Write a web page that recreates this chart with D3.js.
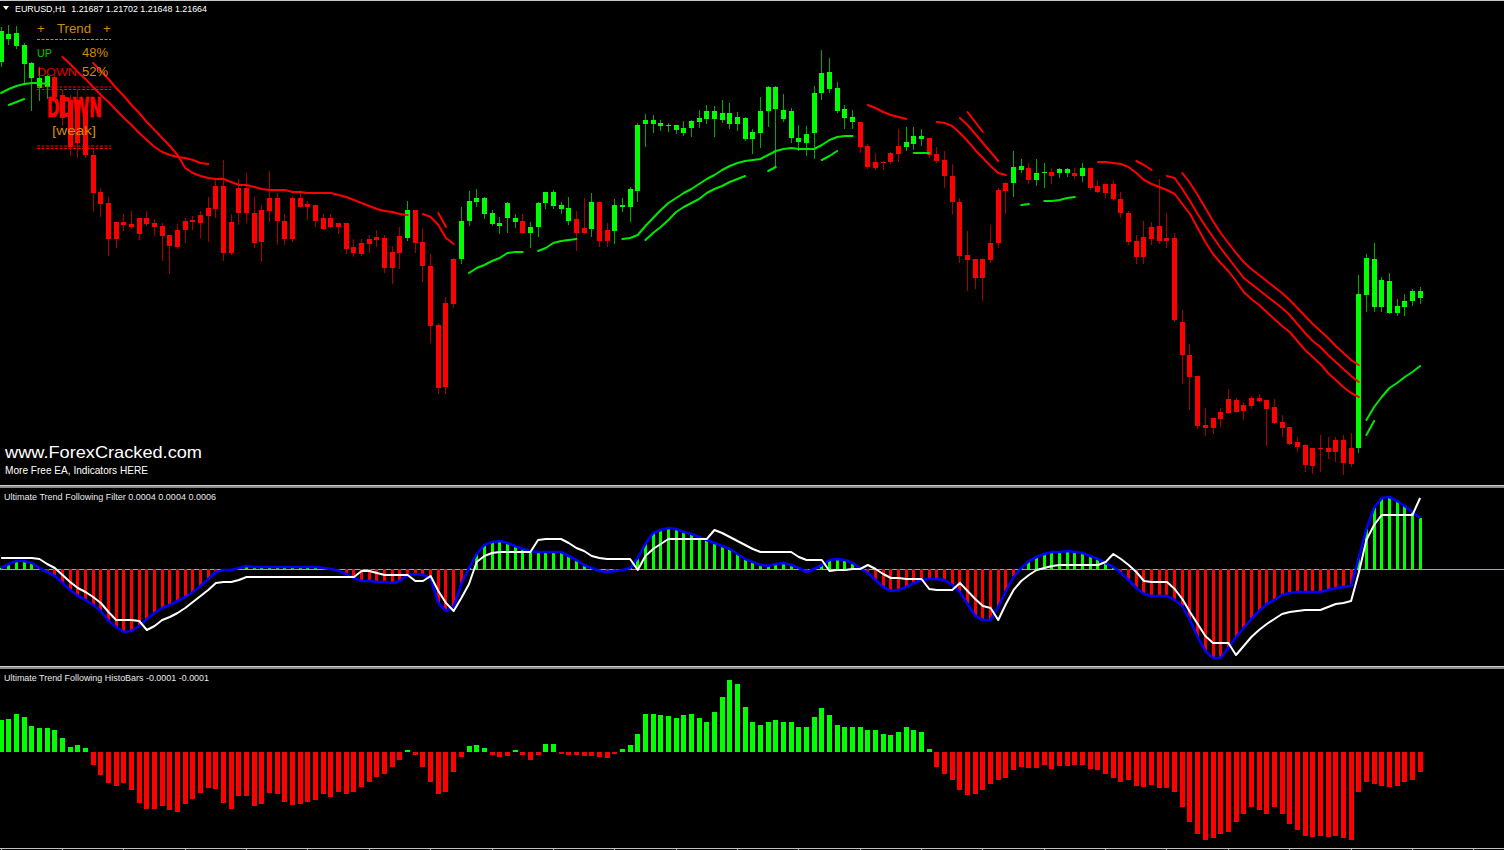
<!DOCTYPE html>
<html><head><meta charset="utf-8">
<script src="https://cdn.jsdelivr.net/npm/d3@7"></script>
<style>html,body{margin:0;padding:0;background:#000;overflow:hidden}</style>
</head><body>
<script>
// ---------------- DATA ----------------
const headerText = "EURUSD,H1  1.21687 1.21702 1.21648 1.21664";
const filterTitle = "Ultimate Trend Following Filter 0.0004 0.0004 0.0006";
const histoTitle = "Ultimate Trend Following HistoBars -0.0001 -0.0001";

const open = [
1.2438,1.2466,1.2467,1.2455,1.2437,1.2422,1.2413,1.2423,1.2405,1.2400,
1.2357,1.2390,1.2345,1.2308,1.2297,1.2261,1.2278,1.2276,1.2266,1.2282,
1.2277,1.2274,1.2265,1.2253,1.2270,1.2278,1.2277,1.2284,1.2291,1.2314,
1.2247,1.2287,1.2312,1.2287,1.2258,1.2289,1.2302,1.2279,1.2261,1.2302,
1.2293,1.2295,1.2282,1.2273,1.2277,1.2277,1.2253,1.2246,1.2256,1.2260,
1.2262,1.2232,1.2247,1.2262,1.2290,1.2258,1.2234,1.2175,1.2113,1.2196,
1.2241,1.2279,1.2298,1.2302,1.2287,1.2277,1.2282,1.2282,1.2279,1.2267,
1.2273,1.2297,1.2308,1.2295,1.2292,1.2281,1.2267,1.2271,1.2298,1.2259,
1.2269,1.2295,1.2293,1.2309,1.2376,1.2380,1.2377,1.2374,1.2375,1.2372,
1.2372,1.2378,1.2381,1.2389,1.2380,1.2387,1.2376,1.2382,1.2361,1.2367,
1.2389,1.2413,1.2390,1.2389,1.2362,1.2357,1.2367,1.2407,1.2428,1.2412,
1.2391,1.2383,1.2378,1.2354,1.2332,1.2338,1.2338,1.2346,1.2353,1.2356,
1.2364,1.2362,1.2346,1.2340,1.2324,1.2298,1.2245,1.2241,1.2222,1.2240,
1.2257,1.2309,1.2317,1.2334,1.2332,1.2320,1.2327,1.2328,1.2327,1.2331,
1.2327,1.2324,1.2332,1.2314,1.2307,1.2316,1.2301,1.2287,1.2259,1.2243,
1.2261,1.2274,1.2259,1.2262,1.2178,1.2145,1.2124,1.2075,1.2072,1.2081,
1.2087,1.2100,1.2089,1.2094,1.2102,1.2100,1.2093,1.2078,1.2073,1.2058,
1.2055,1.2034,1.2052,1.2052,1.2048,1.2060,1.2036,1.2052,1.2205,1.2241,
1.2193,1.2219,1.2187,1.2193,1.2199,1.2209];

const high = [
1.2473,1.2475,1.2474,1.2457,1.2438,1.2433,1.2425,1.2425,1.2410,1.2405,
1.2410,1.2395,1.2352,1.2312,1.2303,1.2278,1.2286,1.2289,1.2282,1.2289,
1.2281,1.2277,1.2265,1.2276,1.2282,1.2284,1.2289,1.2303,1.2320,1.2340,
1.2286,1.2321,1.2327,1.2303,1.2295,1.2329,1.2307,1.2286,1.2304,1.2310,
1.2299,1.2295,1.2286,1.2286,1.2277,1.2277,1.2261,1.2261,1.2265,1.2270,
1.2265,1.2254,1.2273,1.2299,1.2290,1.2272,1.2246,1.2177,1.2203,1.2242,
1.2293,1.2309,1.2311,1.2303,1.2290,1.2283,1.2298,1.2286,1.2286,1.2278,
1.2298,1.2308,1.2310,1.2298,1.2303,1.2289,1.2302,1.2307,1.2298,1.2277,
1.2301,1.2302,1.2313,1.2377,1.2386,1.2385,1.2380,1.2377,1.2375,1.2379,
1.2380,1.2390,1.2395,1.2394,1.2400,1.2397,1.2388,1.2383,1.2371,1.2403,
1.2414,1.2414,1.2406,1.2392,1.2375,1.2374,1.2414,1.2450,1.2442,1.2418,
1.2395,1.2390,1.2378,1.2356,1.2347,1.2339,1.2348,1.2371,1.2373,1.2373,
1.2371,1.2362,1.2353,1.2349,1.2336,1.2302,1.2269,1.2241,1.2242,1.2275,
1.2312,1.2318,1.2349,1.2341,1.2337,1.2341,1.2337,1.2332,1.2332,1.2332,
1.2332,1.2337,1.2332,1.2320,1.2317,1.2320,1.2308,1.2289,1.2265,1.2279,
1.2278,1.2321,1.2287,1.2267,1.2190,1.2156,1.2124,1.2092,1.2082,1.2092,
1.2111,1.2102,1.2098,1.2104,1.2106,1.2100,1.2101,1.2085,1.2073,1.2063,
1.2056,1.2052,1.2065,1.2063,1.2063,1.2065,1.2067,1.2225,1.2246,1.2257,
1.2223,1.2227,1.2201,1.2206,1.2211,1.2213];

const low = [
1.2434,1.2456,1.2452,1.2418,1.2390,1.2400,1.2402,1.2400,1.2375,1.2345,
1.2343,1.2343,1.2289,1.2284,1.2245,1.2253,1.2270,1.2272,1.2261,1.2275,
1.2265,1.2240,1.2227,1.2252,1.2258,1.2271,1.2263,1.2259,1.2283,1.2240,
1.2246,1.2276,1.2278,1.2253,1.2239,1.2279,1.2256,1.2256,1.2259,1.2293,
1.2281,1.2274,1.2271,1.2273,1.2267,1.2247,1.2244,1.2245,1.2248,1.2254,
1.2228,1.2217,1.2232,1.2260,1.2248,1.2219,1.2158,1.2107,1.2107,1.2193,
1.2237,1.2275,1.2294,1.2282,1.2275,1.2267,1.2268,1.2273,1.2267,1.2253,
1.2264,1.2292,1.2292,1.2287,1.2276,1.2250,1.2267,1.2264,1.2254,1.2254,
1.2257,1.2289,1.2279,1.2299,1.2354,1.2368,1.2370,1.2369,1.2367,1.2365,
1.2364,1.2373,1.2377,1.2364,1.2378,1.2372,1.2370,1.2360,1.2347,1.2353,
1.2374,1.2333,1.2379,1.2358,1.2350,1.2345,1.2342,1.2401,1.2408,1.2388,
1.2372,1.2372,1.2348,1.2332,1.2331,1.2331,1.2337,1.2339,1.2350,1.2351,
1.2355,1.2343,1.2338,1.2313,1.2287,1.2238,1.2210,1.2212,1.2200,1.2238,
1.2253,1.2287,1.2304,1.2328,1.2317,1.2315,1.2313,1.2317,1.2323,1.2324,
1.2322,1.2319,1.2311,1.2308,1.2303,1.2300,1.2283,1.2256,1.2237,1.2237,
1.2256,1.2257,1.2253,1.2179,1.2117,1.2091,1.2072,1.2065,1.2067,1.2074,
1.2087,1.2088,1.2081,1.2092,1.2099,1.2055,1.2077,1.2064,1.2056,1.2049,
1.2029,1.2027,1.2029,1.2042,1.2039,1.2026,1.2034,1.2048,1.2189,1.2189,
1.2189,1.2187,1.2185,1.2185,1.2195,1.2197];

const close = [
1.2469,1.2461,1.2454,1.2436,1.2422,1.2412,1.2424,1.2403,1.2382,1.2353,
1.2400,1.2345,1.2307,1.2296,1.2261,1.2278,1.2275,1.2273,1.2282,1.2276,
1.2273,1.2264,1.2254,1.2270,1.2279,1.2280,1.2285,1.2292,1.2314,1.2247,
1.2278,1.2312,1.2287,1.2257,1.2290,1.2302,1.2279,1.2261,1.2302,1.2293,
1.2296,1.2279,1.2271,1.2282,1.2273,1.2251,1.2247,1.2257,1.2261,1.2263,
1.2232,1.2248,1.2264,1.2290,1.2257,1.2234,1.2174,1.2112,1.2197,1.2241,
1.2279,1.2299,1.2302,1.2286,1.2276,1.2274,1.2297,1.2278,1.2267,1.2273,
1.2297,1.2308,1.2294,1.2291,1.2279,1.2267,1.2272,1.2298,1.2259,1.2270,
1.2295,1.2293,1.2311,1.2375,1.2380,1.2376,1.2374,1.2375,1.2370,1.2367,
1.2379,1.2382,1.2389,1.2381,1.2387,1.2376,1.2383,1.2361,1.2368,1.2389,
1.2413,1.2391,1.2381,1.2362,1.2358,1.2366,1.2407,1.2427,1.2411,1.2389,
1.2382,1.2378,1.2353,1.2333,1.2338,1.2337,1.2347,1.2354,1.2358,1.2364,
1.2361,1.2345,1.2339,1.2324,1.2298,1.2244,1.2240,1.2222,1.2241,1.2257,
1.2310,1.2317,1.2333,1.2330,1.2320,1.2327,1.2328,1.2324,1.2331,1.2327,
1.2324,1.2332,1.2312,1.2308,1.2316,1.2301,1.2287,1.2258,1.2243,1.2263,
1.2273,1.2259,1.2262,1.2180,1.2145,1.2123,1.2074,1.2072,1.2082,1.2088,
1.2101,1.2088,1.2095,1.2102,1.2099,1.2091,1.2077,1.2072,1.2056,1.2053,
1.2035,1.2052,1.2051,1.2048,1.2060,1.2037,1.2052,1.2206,1.2242,1.2193,
1.2220,1.2187,1.2194,1.2199,1.2209,1.2202];

// candle colouring by trend: runs of [trend, count]
const trendRuns = [["u",7],["d",46],["u",1],["d",6],["u",8],["d",1],["u",6],["d",2],["u",1],["d",2],
  ["u",32],["d",6],["u",3],["d",11],["u",2],["d",1],["u",2],["d",1],["u",2],["d",1],["u",1],["d",35],["u",9]];

// moving-average style trend lines (segments: first bar index + prices)
const redLines = [
 {from:8,  values:[1.2443,1.2436,1.2428,1.2421,1.2413,1.2405,1.2398,1.2390,1.2382,1.2375,1.2367,1.2360,1.2353,1.2348,1.2345,1.2343,1.2342,1.2340,1.2337,1.2336]},
 {from:12, values:[1.2437,1.2429,1.2421,1.2412,1.2404,1.2395,1.2387,1.2378,1.2370,1.2362,1.2354,1.2345,1.2332,1.2327,1.2324,1.2322,1.2321,1.2321,1.2318,1.2315,1.2315,1.2313,1.2311,1.2310,1.2310,1.2310,1.2308,1.2308,1.2307,1.2307,1.2307,1.2307,1.2305,1.2303,1.2300,1.2297,1.2294,1.2291,1.2289,1.2288,1.2286,1.2285]},
 {from:55, values:[1.2286,1.2283,1.2275,1.2262,1.2256]},
 {from:57, values:[1.2287,1.2273]},
 {from:113,values:[1.2395,1.2392,1.2388,1.2385,1.2383,1.2381]},
 {from:122,values:[1.2378,1.2377,1.2374,1.2367,1.2359,1.2350,1.2342,1.2334,1.2327,1.2325]},
 {from:125,values:[1.2382,1.2375,1.2366,1.2357,1.2348,1.2339]},
 {from:126,values:[1.2388,1.2378,1.2368]},
 {from:143,values:[1.2338,1.2338,1.2337,1.2336,1.2333,1.2327,1.2320,1.2316,1.2313,1.2310,1.2306,1.2296,1.2286,1.2272,1.2258,1.2246,1.2237,1.2229,1.2219,1.2208,1.2201,1.2195,1.2188,1.2181,1.2174,1.2168,1.2159,1.2150,1.2143,1.2136,1.2127,1.2120,1.2113,1.2107,1.2103]},
 {from:148,values:[1.2339,1.2335,1.2330]},
 {from:152,values:[1.2324,1.2322,1.2311,1.2299,1.2286,1.2274,1.2263,1.2252,1.2242,1.2232,1.2222,1.2216,1.2210,1.2204,1.2198,1.2192,1.2185,1.2176,1.2167,1.2159,1.2153,1.2145,1.2138,1.2131,1.2124,1.2118]},
 {from:154,values:[1.2327,1.2317,1.2305,1.2292,1.2279,1.2267,1.2257,1.2247,1.2238,1.2231,1.2225,1.2219,1.2213,1.2207,1.2200,1.2192,1.2184,1.2176,1.2169,1.2162,1.2154,1.2147,1.2140,1.2135]}
];
const greenLines = [
 {from:0,  values:[1.2407,1.2411,1.2414,1.2416,1.2417,1.2417,1.2416]},
 {from:1,  values:[1.2395,1.2398,1.2401]},
 {from:61, values:[1.2227,1.2232,1.2235,1.2239,1.2242,1.2247,1.2248,1.2248]},
 {from:70, values:[1.2249,1.2252,1.2257,1.2259,1.2260,1.2261]},
 {from:81, values:[1.2261,1.2262,1.2265,1.2274,1.2282,1.2290,1.2297,1.2302,1.2307,1.2311,1.2316,1.2321,1.2325,1.2330,1.2334,1.2337,1.2339,1.2340,1.2341,1.2345,1.2349,1.2351,1.2352,1.2351,1.2351,1.2351,1.2355,1.2360,1.2363,1.2364,1.2364]},
 {from:84, values:[1.2260,1.2267,1.2273,1.2280,1.2288,1.2293,1.2297,1.2301,1.2307,1.2311,1.2314,1.2318,1.2321,1.2324]},
 {from:100,values:[1.2329,1.2333]},
 {from:107,values:[1.2340,1.2344,1.2349]},
 {from:119,values:[1.2347,1.2347,1.2347]},
 {from:133,values:[1.2295,1.2296]},
 {from:136,values:[1.2299,1.2299,1.2300,1.2302,1.2303]},
 {from:178,values:[1.2080,1.2093,1.2103,1.2112,1.2117,1.2123,1.2128,1.2134]},
 {from:178,values:[1.2065,1.2079]}
];

// Filter panel (units: 1e-5)
const filterMain = [
1,5,8,8,6,1,-3,-7,-14,-21,
-27,-31,-36,-42,-52,-58,-63,-62,-57,-50,
-44,-39,-36,-32,-28,-23,-17,-10,-3,-1,
-1,1,3,2,2,2,2,2,2,2,
2,2,1,0,-2,-5,-9,-12,-12,-13,
-13,-14,-12,-6,-5,-6,-9,-34,-42,-38,
-15,1,15,24,27,28,26,23,20,18,
17,17,17,17,13,9,4,1,-2,-3,
-2,-1,1,11,25,36,39,41,40,37,
35,32,29,26,23,20,15,10,7,4,
3,5,6,4,1,-3,0,4,9,10,
9,6,1,-4,-11,-18,-22,-21,-18,-14,
-11,-10,-10,-11,-16,-23,-35,-47,-51,-51,
-38,-22,-8,1,8,12,15,17,17,18,
17,16,13,10,6,2,-4,-11,-19,-25,
-27,-27,-27,-31,-37,-51,-68,-82,-89,-89,
-79,-68,-59,-50,-42,-35,-31,-26,-24,-23,
-23,-23,-23,-21,-19,-18,-17,11,40,61,
71,72,68,63,57,51];
const filterSignal = [
11,11,11,11,11,10,5,1,-6,-13,
-19,-23,-28,-34,-43,-51,-51,-51,-52,-61,
-57,-51,-48,-44,-39,-33,-27,-21,-14,-13,
-13,-11,-8,-8,-8,-8,-8,-8,-8,-8,
-8,-8,-8,-8,-8,-8,-8,-2,-2,-4,
-6,-6,-6,-6,-12,-12,-7,-22,-34,-42,
-29,-15,7,13,16,17,17,17,17,17,
29,30,30,30,26,21,18,13,11,10,
10,10,10,-1,13,20,25,30,30,30,
30,30,30,39,36,32,28,24,20,17,
17,17,17,17,12,9,9,9,-2,-1,
-1,0,0,4,0,-5,-9,-9,-10,-10,
-10,-20,-21,-21,-21,-14,-22,-30,-37,-39,
-51,-35,-21,-12,-6,-1,1,3,4,4,
4,4,4,4,7,15,10,4,-3,-12,
-13,-13,-13,-20,-30,-43,-55,-67,-74,-74,
-74,-86,-77,-68,-61,-55,-50,-45,-43,-42,
-41,-41,-41,-38,-35,-34,-32,-4,29,44,
54,54,54,54,54,71];

// HistoBars panel (units: 5e-6)
const histoBars = [
32,33,38,35,26,24,24,22,14,5,
7,4,-13,-23,-31,-34,-31,-38,-51,-57,
-57,-54,-58,-60,-52,-47,-41,-36,-37,-51,
-57,-44,-44,-54,-52,-41,-42,-50,-53,-52,
-50,-48,-42,-45,-40,-42,-40,-35,-30,-25,
-22,-15,-8,2,-3,-15,-30,-42,-40,-20,
-5,6,7,4,-3,-5,-4,2,-3,-8,
-3,8,8,-2,-3,-3,-4,-4,-5,-6,
-2,3,7,18,38,38,37,36,34,37,
38,34,30,40,55,72,68,45,30,27,
30,32,30,30,25,25,35,44,37,27,
25,25,25,22,22,18,17,20,25,22,
20,3,-15,-22,-28,-38,-43,-42,-38,-32,
-28,-26,-18,-15,-16,-16,-13,-17,-14,-14,
-13,-13,-17,-18,-22,-26,-30,-28,-34,-35,
-33,-36,-36,-40,-55,-70,-82,-88,-86,-82,
-80,-70,-62,-55,-58,-62,-55,-62,-72,-78,
-84,-85,-84,-85,-84,-86,-88,-40,-30,-32,
-34,-35,-34,-30,-28,-20];

// ---------------- RENDER ----------------
const W = 1504, H = 850, N = open.length;
const trend = [];
trendRuns.forEach(([t, n]) => { for (let k = 0; k < n; k++) trend.push(t); });

const svg = d3.select("body").append("svg").attr("width", W).attr("height", H).style("display", "block");
svg.append("rect").attr("width", W).attr("height", H).attr("fill", "#000");
const defs = svg.append("defs");
defs.append("clipPath").attr("id", "cMain").append("rect").attr("x", 0).attr("y", 1).attr("width", W).attr("height", 484);
defs.append("clipPath").attr("id", "cF").append("rect").attr("x", 0).attr("y", 488).attr("width", W).attr("height", 178);
defs.append("clipPath").attr("id", "cH").append("rect").attr("x", 0).attr("y", 669).attr("width", W).attr("height", 179);

const x = d3.scaleLinear().domain([0, N - 1]).range([0.63, 1419.6]);
const cx = i => Math.round(x(i));
const yP = d3.scaleLinear().domain([1.2015, 1.2500]).range([485, 0]);
const yF = d3.scaleLinear().domain([-97, 80]).range([666, 489]);
const yH = d3.scaleLinear().domain([-98, 83]).range([850, 669]);

const GREEN = "#00ff00", RED = "#ff0000";

// main panel
const gMain = svg.append("g").attr("clip-path", "url(#cMain)");
const idx = d3.range(N);
gMain.selectAll("line.wick").data(idx).join("line").attr("class", "wick")
  .attr("x1", i => cx(i) + 0.5).attr("x2", i => cx(i) + 0.5)
  .attr("y1", i => Math.round(yP(high[i]))).attr("y2", i => Math.round(yP(low[i])) + 1)
  .attr("stroke", i => trend[i] === "u" ? "#00a800" : "#a80000").attr("stroke-width", 1);
gMain.selectAll("rect.body").data(idx).join("rect").attr("class", "body")
  .attr("x", i => cx(i) - 2).attr("width", 5)
  .attr("y", i => Math.round(yP(Math.max(open[i], close[i]))))
  .attr("height", i => Math.max(1, Math.round(yP(Math.min(open[i], close[i]))) - Math.round(yP(Math.max(open[i], close[i])))))
  .attr("fill", i => trend[i] === "u" ? GREEN : RED);

const maLine = d3.line().x(d => x(d[0]) + 0.5).y(d => yP(d[1]));
function drawSegs(segs, color) {
  gMain.selectAll(null).data(segs).join("path")
    .attr("d", s => maLine(s.values.map((v, k) => [s.from + k, v])))
    .attr("fill", "none").attr("stroke", color).attr("stroke-width", 2)
    .attr("stroke-linejoin", "round").attr("stroke-linecap", "round");
}
drawSegs(redLines, "#ff0000");
drawSegs(greenLines, "#00e800");

// filter panel
const gF = svg.append("g").attr("clip-path", "url(#cF)");
gF.append("line").attr("x1", 0).attr("x2", W).attr("y1", yF(0) + 0.5).attr("y2", yF(0) + 0.5)
  .attr("stroke", "#e8a000").attr("stroke-width", 1);
gF.selectAll("rect").data(idx).join("rect")
  .attr("x", i => cx(i) - 1).attr("width", 3)
  .attr("y", i => Math.min(yF(0), yF(filterMain[i])))
  .attr("height", i => Math.abs(yF(filterMain[i]) - yF(0)))
  .attr("fill", i => filterMain[i] >= 0 ? GREEN : RED);
const fLine = arr => d3.line().x((d, i) => x(i) + 0.5).y(d => yF(d))(arr);
gF.append("path").attr("d", fLine(filterMain)).attr("fill", "none").attr("stroke", "#0000ff").attr("stroke-width", 2.6).attr("stroke-linejoin", "round");
gF.append("path").attr("d", fLine(filterSignal)).attr("fill", "none").attr("stroke", "#ffffff").attr("stroke-width", 2).attr("stroke-linejoin", "round");

// histobars panel
const gH = svg.append("g").attr("clip-path", "url(#cH)");
gH.selectAll("rect").data(idx).join("rect")
  .attr("x", i => cx(i) - 2).attr("width", 5)
  .attr("y", i => Math.min(yH(0), yH(histoBars[i])))
  .attr("height", i => Math.abs(yH(histoBars[i]) - yH(0)))
  .attr("fill", i => histoBars[i] >= 0 ? GREEN : RED);

// separators / frame
svg.append("rect").attr("x", 0).attr("y", 0).attr("width", W).attr("height", 1).attr("fill", "#c8c8c8");
[485, 666].forEach(y0 => {
  svg.append("rect").attr("x", 0).attr("y", y0).attr("width", W).attr("height", 3).attr("fill", "#8c8c8c");
  svg.append("rect").attr("x", 0).attr("y", y0).attr("width", W).attr("height", 1).attr("fill", "#cfcfcf");
});
svg.append("rect").attr("x", 0).attr("y", 848).attr("width", W).attr("height", 1).attr("fill", "#c0c0c0");
svg.selectAll("rect.tick").data(d3.range(0, N + 8, 8)).join("rect").attr("class", "tick")
  .attr("x", i => cx(i)).attr("y", 848).attr("width", 1).attr("height", 2).attr("fill", "#c0c0c0");

// texts
const FONT = "'Liberation Sans', Arial, sans-serif";
function txt(s, x0, y0, size, color, len, extra) {
  const t = svg.append("text").attr("x", x0).attr("y", y0).text(s)
    .attr("font-family", FONT).attr("font-size", size).attr("fill", color)
    .style("white-space", "pre");
  if (len) t.attr("textLength", len).attr("lengthAdjust", "spacingAndGlyphs");
  if (extra) extra(t);
  return t;
}
svg.append("path").attr("d", "M3,6L9,6L6,10Z").attr("fill", "#ffffff");
txt(headerText, 15, 12, 9.5, "#ffffff", 192);

const ORANGE = "#d08a00";
txt("+", 37, 33, 13, ORANGE);
txt("Trend", 57, 33, 13, ORANGE, 34);
txt("+", 103, 33, 13, ORANGE);
svg.append("line").attr("x1", 37).attr("x2", 111).attr("y1", 39.5).attr("y2", 39.5).attr("stroke", ORANGE).attr("stroke-dasharray", "3,1.5");
txt("UP", 37, 57, 11.5, "#00c800", 15);
txt("48%", 82, 57, 12, ORANGE, 26);
txt("DOWN", 37, 76, 11.5, "#e00000", 40);
txt("52%", 82, 76, 12, ORANGE, 26);
[87, 89.5, 146, 148.5].forEach(yy => svg.append("line").attr("x1", 37).attr("x2", 111).attr("y1", yy).attr("y2", yy)
  .attr("stroke", "#ff0000").attr("stroke-dasharray", "3,1.5"));
txt("DOWN", 47, 117, 26, "#ff0000", 55, t => t.attr("font-weight", "900")
  .attr("font-family", "'DejaVu Sans Condensed','Liberation Sans Narrow',Arial,sans-serif")
  .attr("stroke", "#ff0000").attr("stroke-width", 0.6));
txt("[weak]", 52, 135, 13, ORANGE, 44);

txt("www.ForexCracked.com", 5, 458, 17, "#ffffff", 197);
txt("More Free EA, Indicators HERE", 5, 474, 11, "#ffffff", 143);
txt(filterTitle, 4, 500, 9.5, "#e8e8e8", 212);
txt(histoTitle, 4, 681, 9.5, "#e8e8e8", 205);
</script>
</body></html>
